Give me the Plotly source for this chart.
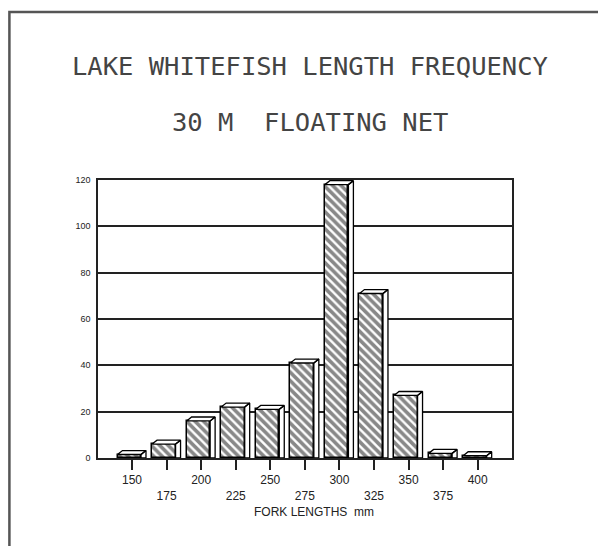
import plotly.graph_objects as go

# ---- data ----
lengths = [150, 175, 200, 225, 250, 275, 300, 325, 350, 375, 400]
counts = [1.5, 6, 16, 22, 21, 41, 118, 71, 27, 2, 1]
tick_labels = ["150", "175", "200", "225", "250", "275", "300", "325", "350", "375", "400"]
y_ticks = [0, 20, 40, 60, 80, 100, 120]
title_1 = "LAKE WHITEFISH LENGTH FREQUENCY"
title_2 = "30 M  FLOATING NET"
x_title = "FORK LENGTHS  mm"

# ---- geometry (data units) ----
bar_w = 17.0
bar_off = -10.5
dx = 3.6
dy = 1.7

fig = go.Figure()
fig.add_trace(go.Bar(
    x=lengths, y=counts, width=bar_w, offset=bar_off,
    marker=dict(color="white",
                line=dict(color="black", width=1.5),
                pattern=dict(shape="\\", size=6, solidity=0.6,
                             fgcolor="#111", bgcolor="white")),
    showlegend=False, hoverinfo="skip",
))

px, py = [], []
for x, v in zip(lengths, counts):
    l = x + bar_off
    r = l + bar_w
    # top face
    px += [l, l + dx, r + dx, r, l, None]
    py += [v, v + dy, v + dy, v, v, None]
    # side face
    px += [r, r + dx, r + dx, r, r, None]
    py += [v, v + dy, 0, 0, v, None]
fig.add_trace(go.Scatter(
    x=px, y=py, mode="lines", fill="toself", fillcolor="white",
    line=dict(color="black", width=1.3), showlegend=False,
    hoverinfo="skip", cliponaxis=False,
))

ticktext = [t if i % 2 == 0 else "<br>" + t for i, t in enumerate(tick_labels)]

fig.update_layout(
    width=598, height=538,
    margin=dict(l=90, r=94, t=172, b=88),
    paper_bgcolor="white", plot_bgcolor="white",
    font=dict(family="Liberation Sans, Arial, sans-serif", color="#222"),
    xaxis=dict(range=[125.4, 424.8], tickvals=lengths, ticktext=ticktext,
               ticks="outside", ticklen=10, tickwidth=1.5, tickcolor="#222",
               showgrid=False, zeroline=False, showline=True, linecolor="#222",
               linewidth=1.5, mirror=True, tickfont=dict(size=12)),
    yaxis=dict(range=[0, 120], tickvals=y_ticks, showgrid=True,
               gridcolor="#222", gridwidth=1.5, zeroline=False,
               showline=True, linecolor="#222", linewidth=1.5, mirror=True,
               ticks="", tickfont=dict(size=9), ticklabelstandoff=4),
    bargap=0,
)

fig.add_annotation(text=title_1, xref="paper", yref="paper", x=0.511, y=1.41,
                   showarrow=False, xanchor="center", yanchor="middle",
                   font=dict(family="DejaVu Sans Mono", size=25.5, color="#444"))
fig.add_annotation(text=title_2, xref="paper", yref="paper", x=0.511, y=1.209,
                   showarrow=False, xanchor="center", yanchor="middle",
                   font=dict(family="DejaVu Sans Mono", size=25.5, color="#444"))
fig.add_annotation(text=x_title, xref="paper", yref="paper", x=0.522, y=-0.194,
                   showarrow=False, xanchor="center", yanchor="middle",
                   font=dict(size=12, color="#222"))

fig.add_shape(type="rect", xref="paper", yref="paper",
              x0=-0.214, y0=-2, x1=3, y1=1.604,
              line=dict(color="#555", width=2.5), layer="below")

fig.write_html("out.html")
